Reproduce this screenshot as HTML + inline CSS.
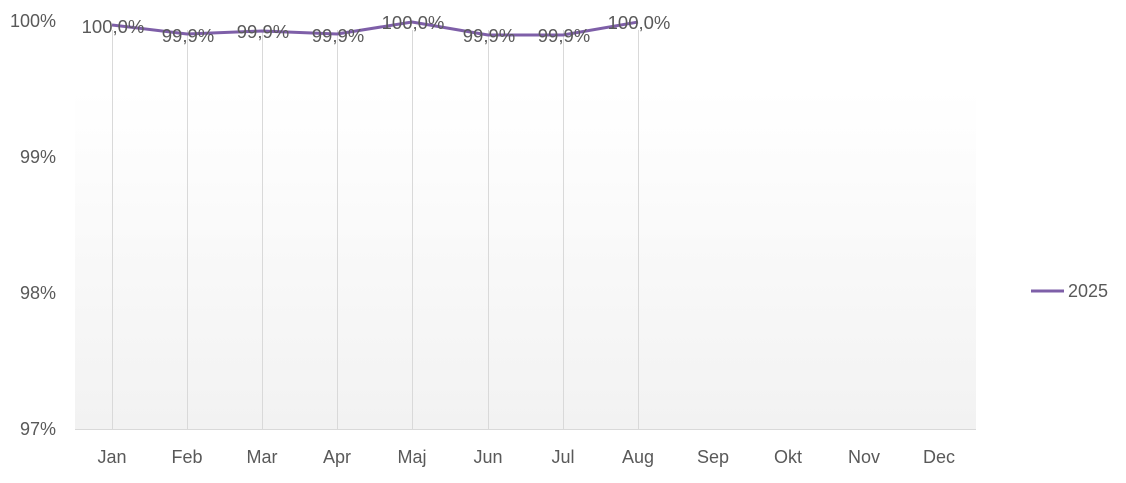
<!DOCTYPE html>
<html><head><meta charset="utf-8"><style>
body{margin:0;background:#fff;}
svg text{font-family:"Liberation Sans",sans-serif;fill:#595959;}
</style></head><body>
<svg width="1126" height="478" xmlns="http://www.w3.org/2000/svg">
<defs><linearGradient id="g" x1="0" y1="0" x2="0" y2="1"><stop offset="0" stop-color="#ffffff"/><stop offset="1" stop-color="#f2f2f2"/></linearGradient></defs>
<rect x="75" y="90" width="901" height="339" fill="url(#g)"/>
<line x1="75" y1="429.5" x2="976" y2="429.5" stroke="#d9d9d9"/>
<g stroke="#d9d9d9" stroke-width="1">
<line x1="112.5" y1="30" x2="112.5" y2="429"/><line x1="187.5" y1="30" x2="187.5" y2="429"/>
<line x1="262.5" y1="30" x2="262.5" y2="429"/><line x1="337.5" y1="30" x2="337.5" y2="429"/>
<line x1="412.5" y1="30" x2="412.5" y2="429"/><line x1="488.5" y1="30" x2="488.5" y2="429"/>
<line x1="563.5" y1="30" x2="563.5" y2="429"/><line x1="638.5" y1="30" x2="638.5" y2="429"/>
</g>
<g font-size="18" text-anchor="end">
<text x="56" y="27">100%</text><text x="56" y="163">99%</text><text x="56" y="299">98%</text><text x="56" y="435">97%</text>
</g>
<g font-size="18" text-anchor="middle">
<text x="112" y="463">Jan</text><text x="187" y="463">Feb</text><text x="262" y="463">Mar</text><text x="337" y="463">Apr</text>
<text x="412" y="463">Maj</text><text x="488" y="463">Jun</text><text x="563" y="463">Jul</text><text x="638" y="463">Aug</text>
<text x="713" y="463">Sep</text><text x="788" y="463">Okt</text><text x="864" y="463">Nov</text><text x="939" y="463">Dec</text>
</g>
<polyline points="112,25 187,34 262,31 337,34 412,22 488,35 563,35 638,22" fill="none" stroke="#7e5fa8" stroke-width="3" stroke-linejoin="round"/>
<g font-size="18.5" text-anchor="middle">
<text x="113" y="33">100,0%</text><text x="188" y="42">99,9%</text><text x="263" y="38">99,9%</text><text x="338" y="42">99,9%</text>
<text x="413" y="29">100,0%</text><text x="489" y="42">99,9%</text><text x="564" y="42">99,9%</text><text x="639" y="29">100,0%</text>
</g>
<line x1="1031" y1="291" x2="1064" y2="291" stroke="#7e5fa8" stroke-width="3"/>
<text x="1068" y="297" font-size="18">2025</text>
</svg>
</body></html>
